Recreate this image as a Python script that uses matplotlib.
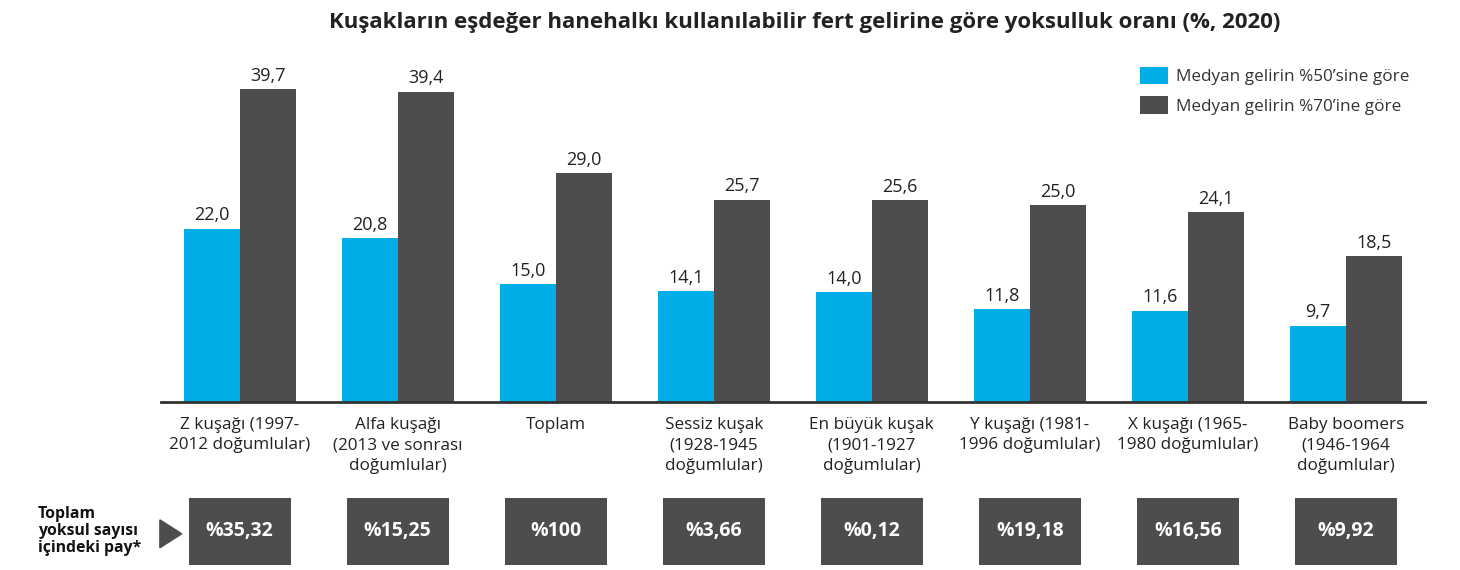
import matplotlib.pyplot as plt
import numpy as np

plt.rcParams['font.family'] = ['Open Sans', 'DejaVu Sans']

# data
categories = [
    "Z kuşağı (1997-\n2012 doğumlular)",
    "Alfa kuşağı\n(2013 ve sonrası\ndoğumlular)",
    "Toplam",
    "Sessiz kuşak\n(1928-1945\ndoğumlular)",
    "En büyük kuşak\n(1901-1927\ndoğumlular)",
    "Y kuşağı (1981-\n1996 doğumlular)",
    "X kuşağı (1965-\n1980 doğumlular)",
    "Baby boomers\n(1946-1964\ndoğumlular)",
]
median50 = [22.0, 20.8, 15.0, 14.1, 14.0, 11.8, 11.6, 9.7]
median70 = [39.7, 39.4, 29.0, 25.7, 25.6, 25.0, 24.1, 18.5]
share = ["%35,32", "%15,25", "%100", "%3,66", "%0,12", "%19,18", "%16,56", "%9,92"]

series_names = ["Medyan gelirin %50’sine göre", "Medyan gelirin %70’ine göre"]
blue = "#00ADE6"
dark = "#4D4D50"

fig = plt.figure(figsize=(14.6, 5.7), dpi=100)
ax = fig.add_axes([0.110, 0.2947, 0.866, 0.60])

x = np.arange(len(categories))
w = 0.355
b1 = ax.bar(x - w / 2, median50, w, color=blue, label=series_names[0])
b2 = ax.bar(x + w / 2, median70, w, color=dark, label=series_names[1])

def fmt(vals):
    return [f"{v:.1f}".replace(".", ",") for v in vals]

ax.bar_label(b1, labels=fmt(median50), padding=3, fontsize=13, color="#222222")
ax.bar_label(b2, labels=fmt(median70), padding=3, fontsize=13, color="#222222")

ax.set_xlim(-0.5, 7.5)
ax.set_ylim(0, 43.4)
ax.set_xticks(x)
ax.set_xticklabels(categories, fontsize=12.3, color="#222222", linespacing=1.35)
ax.tick_params(axis="x", length=0, pad=11)
ax.set_yticks([])
for s in ["left", "right", "top"]:
    ax.spines[s].set_visible(False)
ax.spines["bottom"].set_color("#333333")
ax.spines["bottom"].set_linewidth(2)

ax.legend(loc="upper right", bbox_to_anchor=(1.0, 1.025), frameon=False, fontsize=12.3,
          handlelength=1.6, handleheight=1.2, handletextpad=0.5, labelspacing=0.65,
          labelcolor="#333333")

fig.text(0.551, 0.96, "Kuşakların eşdeğer hanehalkı kullanılabilir fert gelirine göre yoksulluk oranı (%, 2020)",
         ha="center", va="center", fontsize=16, fontweight="bold", color="#222222")

# share boxes at the bottom
ax2 = fig.add_axes([0.110, 0.0088, 0.866, 0.1175])
ax2.bar(x, 1, width=0.645, color=dark)
for xi, s in zip(x, share):
    ax2.text(xi, 0.5, s, ha="center", va="center", color="white", fontsize=14, fontweight="bold")
ax2.set_xlim(-0.5, 7.5)
ax2.set_ylim(0, 1)
ax2.axis("off")

fig.text(0.026, 0.068, "Toplam\nyoksul sayısı\niçindeki pay*", ha="left", va="center",
         fontsize=11.3, fontweight="bold", color="#111111", linespacing=1.1)
fig.patches.append(plt.Polygon([[0.1095, 0.088], [0.1095, 0.039], [0.1245, 0.0635]],
                               closed=True, transform=fig.transFigure, color=dark))

fig.savefig("out.png", dpi=100)
